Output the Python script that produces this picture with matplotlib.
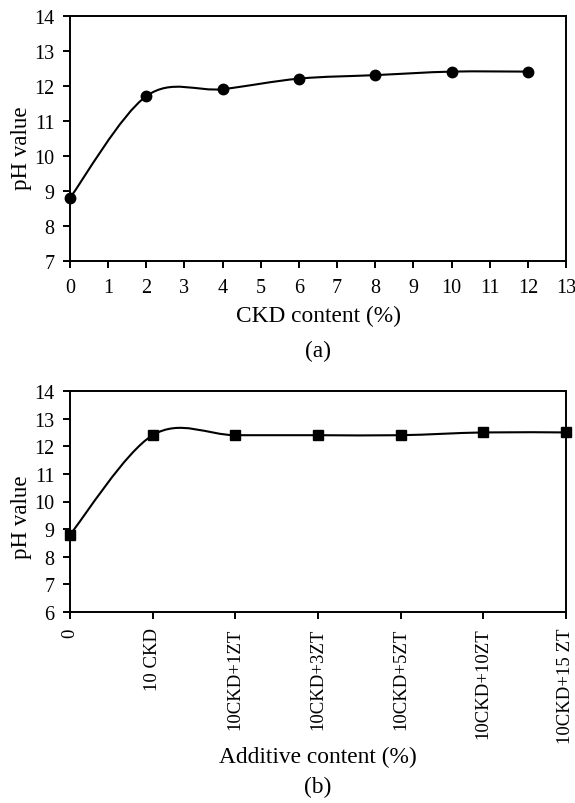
import matplotlib
matplotlib.use("Agg")
import matplotlib.pyplot as plt
import numpy as np
from matplotlib.path import Path
from matplotlib.patches import PathPatch

plt.rcParams["font.family"] = ["Liberation Serif", "DejaVu Serif"]
plt.rcParams["font.size"] = 14.5

# (a) CKD content vs pH
ckd_content = [0, 2, 4, 6, 8, 10, 12]
ph_a = [8.8, 11.7, 11.9, 12.2, 12.3, 12.4, 12.4]

# (b) additive content vs pH
additive_labels = ["0", "10 CKD", "10CKD+1ZT", "10CKD+3ZT", "10CKD+5ZT", "10CKD+10ZT", "10CKD+15 ZT"]
ph_b = [8.8, 12.4, 12.4, 12.4, 12.4, 12.5, 12.5]


def smooth_path(xs, ys):
    # Excel-style smoothed line: cubic bezier with 1/6 tangent
    p = np.column_stack([xs, ys]).astype(float)
    n = len(p)
    verts = [p[0]]
    codes = [Path.MOVETO]
    for i in range(n - 1):
        p0 = p[i - 1] if i > 0 else p[i]
        p3 = p[i + 2] if i + 2 < n else p[i + 1]
        c1 = p[i] + (p[i + 1] - p0) / 6
        c2 = p[i + 1] - (p3 - p[i]) / 6
        verts += [c1, c2, p[i + 1]]
        codes += [Path.CURVE4] * 3
    return Path(verts, codes)


def style_axes(ax, xpad):
    for s in ax.spines.values():
        s.set_linewidth(1.4)
    ax.tick_params(direction="out", length=5, width=1.4, top=False, right=False)
    ax.tick_params(axis="x", pad=xpad)
    ax.tick_params(axis="y", pad=6)


W, H = 575, 804
fig = plt.figure(figsize=(W / 100, H / 100), dpi=100)


def px_axes(left, top, right, bottom):
    return fig.add_axes([left / W, 1 - bottom / H, (right - left) / W, (bottom - top) / H])


ax1 = px_axes(70, 16.5, 566, 262)
ax1.add_patch(PathPatch(smooth_path(ckd_content, ph_a), fill=False, lw=1.5, color="black"))
ax1.plot(ckd_content, ph_a, "o", color="black", ms=7.5, clip_on=False, zorder=3)
ax1.set_xlim(0, 13)
ax1.set_ylim(7, 14)
ax1.set_xticks(range(0, 14))
ax1.set_yticks(range(7, 15))
style_axes(ax1, 7)
fig.text(22 / W, 1 - 148 / H, "pH value", rotation=90, ha="center", va="center", fontsize=16.5)
fig.text(318 / W, 1 - 316 / H, "CKD content (%)", ha="center", va="center", fontsize=16.8)
fig.text(318 / W, 1 - 351 / H, "(a)", ha="center", va="center", fontsize=16.8)

xb = np.arange(len(ph_b))
ax2 = px_axes(70, 392, 566, 613)
ax2.add_patch(PathPatch(smooth_path(xb, ph_b), fill=False, lw=1.5, color="black"))
ax2.plot(xb, ph_b, "s", color="black", ms=7, clip_on=False, zorder=3)
ax2.set_xlim(0, len(ph_b) - 1)
ax2.set_ylim(6, 14)
ax2.set_xticks(xb)
ax2.set_xticklabels(additive_labels, rotation=90, fontsize=13.5)
ax2.set_yticks(range(6, 15))
style_axes(ax2, 6)
fig.text(22 / W, 1 - 517 / H, "pH value", rotation=90, ha="center", va="center", fontsize=16.5)
fig.text(318 / W, 1 - 757 / H, "Additive content (%)", ha="center", va="center", fontsize=16.8)
fig.text(318 / W, 1 - 787 / H, "(b)", ha="center", va="center", fontsize=16.8)

fig.savefig("out.png", dpi=100)
